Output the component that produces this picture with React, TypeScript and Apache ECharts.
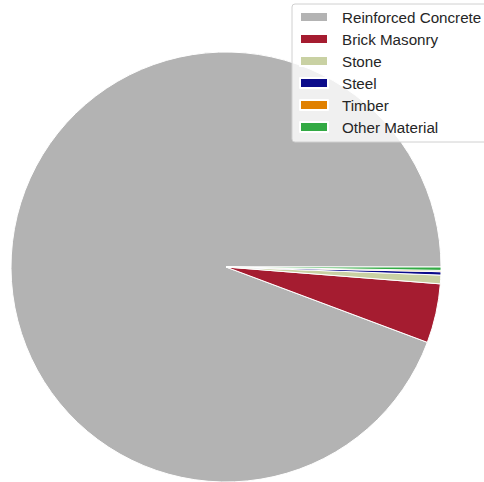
import React, { useEffect, useRef } from "react";
import * as echarts from "echarts";

const categories = ["Reinforced Concrete", "Brick Masonry", "Stone", "Steel", "Timber", "Other Material"];
const values = [94.3, 4.45, 0.65, 0.25, 0.1, 0.25];
const colors = ["#b3b3b3", "#a51c30", "#c9d1a3", "#0b0b8a", "#e08000", "#33aa44"];

export default function App() {
  const ref = useRef<HTMLDivElement>(null);
  useEffect(() => {
    if (!ref.current) return;
    const chart = echarts.init(ref.current, null, { renderer: "svg" });
    chart.setOption({
      animation: false,
      legend: {
        orient: "vertical",
        left: 292,
        top: 4,
        padding: [5, 10, 7, 7],
        itemWidth: 28,
        itemHeight: 10,
        itemGap: 6,
        icon: "rect",
        backgroundColor: "rgba(255,255,255,0.8)",
        borderColor: "#d0d0d0",
        borderWidth: 1,
        borderRadius: 3,
        textStyle: {
          fontFamily: "Liberation Sans, Arial, sans-serif",
          fontSize: 15.2,
          color: "#262626",
          lineHeight: 16,
          padding: [0, 0, 0, 9],
        },
        data: categories,
      },
      series: [
        {
          type: "pie",
          center: [226, 267],
          radius: 215,
          startAngle: 0,
          clockwise: false,
          label: { show: false },
          labelLine: { show: false },
          emphasis: { disabled: true },
          itemStyle: { borderColor: "#ffffff", borderWidth: 1 },
          data: categories.map((c, i) => ({ name: c, value: values[i], itemStyle: { color: colors[i] } })),
        },
      ],
    });
    return () => chart.dispose();
  }, []);
  return <div ref={ref} style={{ width: 484, height: 482, position: "absolute", left: 0, top: 0 }} />;
}
